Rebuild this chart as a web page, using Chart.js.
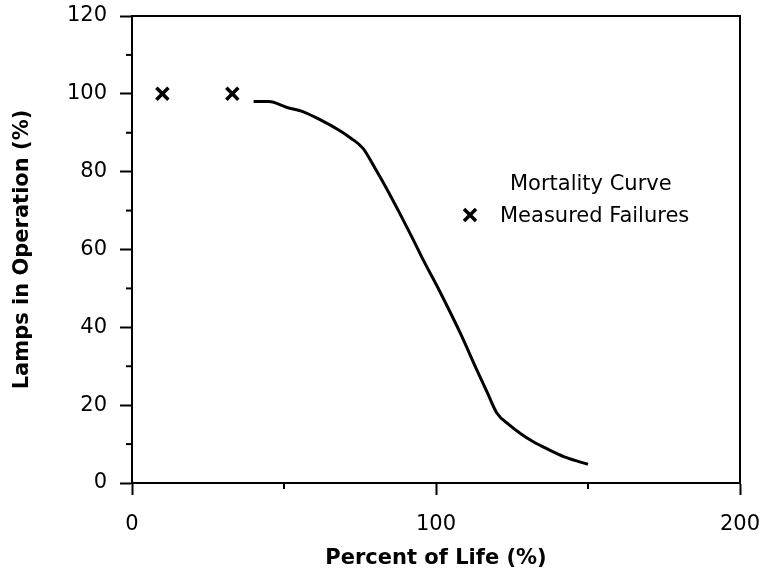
<!DOCTYPE html>
<html>
<head>
<meta charset="utf-8">
<title>Lamp mortality</title>
<script src="https://cdn.jsdelivr.net/npm/chart.js@4.4.1/dist/chart.umd.min.js"></script>
<style>
    html, body { margin: 0; padding: 0; background: #fff; }
    #wrap { width: 765px; height: 578px; position: relative; }
</style>
</head>
<body>
<div id="wrap"><canvas id="mortalityChart"></canvas></div>
<script>
// percent of rated life vs lamps still burning
const lifePct = [40, 45, 51, 56, 62, 68, 72, 76, 80, 84, 88, 92, 96, 101, 108, 113, 117, 120, 124, 128, 132, 137, 142, 147, 150];
const lampsPct = [98, 98, 96.5, 95.5, 93.3, 90.7, 88.6, 86, 80.8, 75.3, 69.4, 63.3, 57, 49.6, 38.5, 29.8, 23, 18, 15, 12.6, 10.6, 8.6, 6.8, 5.5, 4.8];

// individual measured failures
const failLife = [10, 33];
const failLamps = [100, 100];

const xTickLabels = [0, 100, 200];
const yTickLabels = [0, 20, 40, 60, 80, 100, 120];

const legendLabels = ['Mortality Curve', 'Measured Failures'];

const ink = '#000';
const tickFont = { family: 'DejaVu Sans', size: 21 };
const titleFont = { family: 'DejaVu Sans', size: 21, weight: 'bold' };

Chart.defaults.color = ink;

// frame, minor ticks and the in-plot legend
const decorPlugin = {
    id: 'decor',
    afterDraw(chart) {
        const { ctx, chartArea: a, scales } = chart;
        ctx.save();
        ctx.strokeStyle = ink;
        ctx.lineWidth = 2;
        ctx.strokeRect(a.left, a.top, a.right - a.left, a.bottom - a.top);

        // minor ticks (short)
        scales.x.ticks.forEach((t) => {
            if (xTickLabels.includes(t.value)) return;
            const px = scales.x.getPixelForValue(t.value);
            ctx.beginPath();
            ctx.moveTo(px, a.bottom);
            ctx.lineTo(px, a.bottom + 6);
            ctx.stroke();
        });
        scales.y.ticks.forEach((t) => {
            if (yTickLabels.includes(t.value)) return;
            const py = scales.y.getPixelForValue(t.value);
            ctx.beginPath();
            ctx.moveTo(a.left, py);
            ctx.lineTo(a.left - 6, py);
            ctx.stroke();
        });

        // legend
        ctx.fillStyle = ink;
        ctx.font = '21px "DejaVu Sans"';
        ctx.textBaseline = 'alphabetic';
        ctx.textAlign = 'left';
        const lx = a.left + 378;
        const ly = a.top + 174;
        ctx.fillText(legendLabels[0], lx, ly);
        ctx.fillText(legendLabels[1], lx - 10, ly + 32);

        const mx = lx - 40;
        const my = ly + 25;
        const r = 6;
        ctx.lineWidth = 3.5;
        ctx.beginPath();
        ctx.moveTo(mx - r, my - r);
        ctx.lineTo(mx + r, my + r);
        ctx.moveTo(mx + r, my - r);
        ctx.lineTo(mx - r, my + r);
        ctx.stroke();
        ctx.restore();
    }
};

const majorOnly = (list) => (value) => (list.includes(value) ? String(value) : '');

new Chart(document.getElementById('mortalityChart'), {
    type: 'scatter',
    data: {
        datasets: [{
            label: legendLabels[0],
            data: lifePct.map((x, i) => ({ x, y: lampsPct[i] })),
            showLine: true,
            borderColor: ink,
            borderWidth: 3,
            pointRadius: 0,
            cubicInterpolationMode: 'monotone'
        }, {
            label: legendLabels[1],
            data: failLife.map((x, i) => ({ x, y: failLamps[i] })),
            showLine: false,
            pointStyle: 'crossRot',
            pointRadius: 8.5,
            borderColor: ink,
            borderWidth: 3.5
        }]
    },
    options: {
        responsive: true,
        maintainAspectRatio: false,
        animation: false,
        layout: { padding: { top: 16, right: 25, left: 0, bottom: 0 } },
        plugins: {
            legend: { display: false },
            tooltip: { enabled: false }
        },
        scales: {
            x: {
                type: 'linear',
                min: 0,
                max: 200,
                afterFit: (scale) => {
                    scale.height = 95;
                    scale.paddingLeft = 0;
                    scale.paddingRight = 0;
                },
                ticks: {
                    stepSize: 50,
                    autoSkip: false,
                    maxRotation: 0,
                    padding: 17,
                    font: tickFont,
                    callback: majorOnly(xTickLabels)
                },
                grid: {
                    drawOnChartArea: false,
                    tickLength: 12,
                    tickWidth: 2,
                    tickColor: (c) => (xTickLabels.includes(c.tick.value) ? ink : 'rgba(0,0,0,0)')
                },
                border: { color: ink, width: 2 },
                title: {
                    display: true,
                    text: 'Percent of Life (%)',
                    font: titleFont,
                    padding: { top: 0, bottom: 7 }
                }
            },
            y: {
                type: 'linear',
                min: 0,
                max: 120,
                afterFit: (scale) => {
                    scale.width = 132;
                    scale.paddingTop = 0;
                    scale.paddingBottom = 0;
                },
                ticks: {
                    stepSize: 10,
                    autoSkip: false,
                    padding: 13,
                    font: tickFont,
                    callback: majorOnly(yTickLabels)
                },
                grid: {
                    drawOnChartArea: false,
                    tickLength: 12,
                    tickWidth: 2,
                    tickColor: (c) => (yTickLabels.includes(c.tick.value) ? ink : 'rgba(0,0,0,0)')
                },
                border: { color: ink, width: 2 },
                title: {
                    display: true,
                    text: 'Lamps in Operation (%)',
                    font: titleFont,
                    padding: { top: 10, bottom: 0 }
                }
            }
        }
    },
    plugins: [decorPlugin]
});
</script>
</body>
</html>
